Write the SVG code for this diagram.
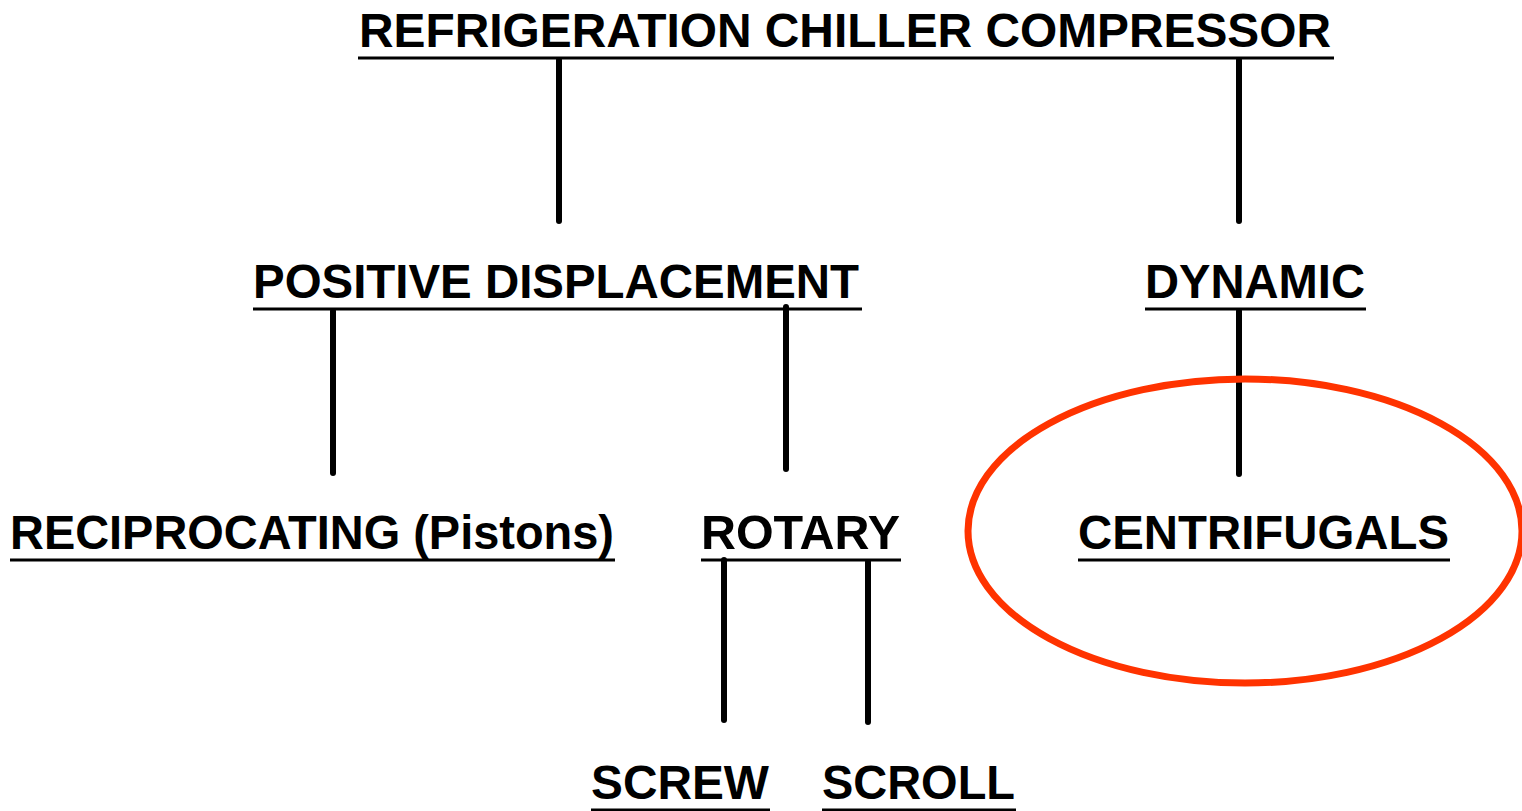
<svg xmlns="http://www.w3.org/2000/svg" width="1522" height="811" viewBox="0 0 1522 811">
<style>
.t{font-family:"Liberation Sans",Arial,sans-serif;font-weight:bold;font-size:48px;fill:#000}
.u{stroke:#000;stroke-width:3}
.c{stroke:#000;stroke-width:6;stroke-linecap:round;fill:none}
</style>
<rect width="1522" height="811" fill="#fff"/>
<g id="connectors">
<line class="c" x1="559" y1="60" x2="559" y2="221"/>
<line class="c" x1="1239" y1="60" x2="1239" y2="221"/>
<line class="c" x1="333" y1="311" x2="333" y2="473"/>
<line class="c" x1="786" y1="307" x2="786" y2="469"/>
<line class="c" x1="1239" y1="311" x2="1239" y2="474"/>
<line class="c" x1="724" y1="560" x2="724" y2="720"/>
<line class="c" x1="868" y1="562" x2="868" y2="722"/>
</g>
<g id="highlight">
<ellipse cx="1245" cy="531" rx="277" ry="152" fill="none" stroke="#FF3300" stroke-width="7"/>
</g>
<g id="n-root">
<text class="t" x="359" y="47" textLength="972" lengthAdjust="spacingAndGlyphs">REFRIGERATION CHILLER COMPRESSOR</text>
<line class="u" x1="358" y1="58" x2="1334" y2="58"/>
</g>
<g id="n-positive">
<text class="t" x="253" y="298" textLength="606" lengthAdjust="spacingAndGlyphs">POSITIVE DISPLACEMENT</text>
<line class="u" x1="253" y1="309" x2="862" y2="309"/>
</g>
<g id="n-dynamic">
<text class="t" x="1145" y="298" textLength="220" lengthAdjust="spacingAndGlyphs">DYNAMIC</text>
<line class="u" x1="1145" y1="309" x2="1366" y2="309"/>
</g>
<g id="n-recip">
<text class="t" x="10" y="549" textLength="604" lengthAdjust="spacingAndGlyphs">RECIPROCATING (Pistons)</text>
<line class="u" x1="10" y1="560" x2="615" y2="560"/>
</g>
<g id="n-rotary">
<text class="t" x="701" y="549" textLength="199" lengthAdjust="spacingAndGlyphs">ROTARY</text>
<line class="u" x1="701" y1="560" x2="901" y2="560"/>
</g>
<g id="n-centrifugals">
<text class="t" x="1078" y="549" textLength="371" lengthAdjust="spacingAndGlyphs">CENTRIFUGALS</text>
<line class="u" x1="1078" y1="560" x2="1450" y2="560"/>
</g>
<g id="n-screw">
<text class="t" x="591" y="799" textLength="178" lengthAdjust="spacingAndGlyphs">SCREW</text>
<line class="u" x1="591" y1="810" x2="770" y2="810"/>
</g>
<g id="n-scroll">
<text class="t" x="822" y="799" textLength="193" lengthAdjust="spacingAndGlyphs">SCROLL</text>
<line class="u" x1="822" y1="810" x2="1016" y2="810"/>
</g>
</svg>
